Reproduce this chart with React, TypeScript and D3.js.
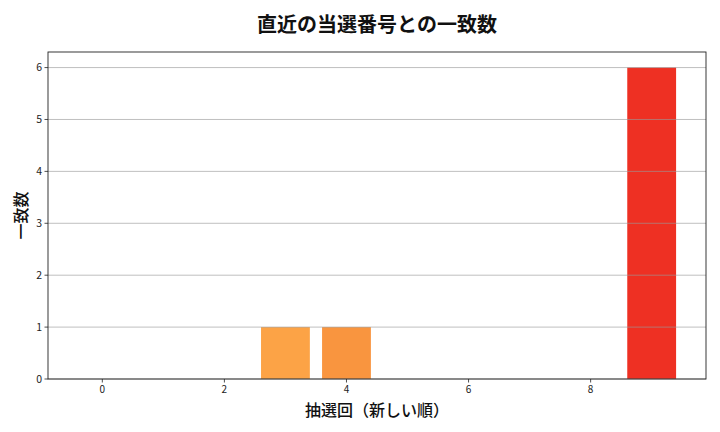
import * as d3 from "d3";
import { useEffect, useRef } from "react";

// draws (newest first) and matched-number counts
const draws = [0, 1, 2, 3, 4, 5, 6, 7, 8, 9];
const matches = [0, 0, 0, 1, 1, 0, 0, 0, 0, 6];
const barColors = [
  "#ffeda0",
  "#fed976",
  "#feb24c",
  "#fca346",
  "#f9953f",
  "#fd8d3c",
  "#fc4e2a",
  "#e31a1c",
  "#bd0026",
  "#ee3023",
];
const xTicks = [0, 2, 4, 6, 8];
const yTicks = [0, 1, 2, 3, 4, 5, 6];

const W = 720;
const H = 432;
const FONT = "'Noto Sans CJK JP', 'DejaVu Sans', sans-serif";

export default function App() {
  const ref = useRef<SVGSVGElement>(null);

  useEffect(() => {
    if (!ref.current) return;
    const svg = d3.select(ref.current);
    svg.selectAll("*").remove();

    const left = 48;
    const right = 706;
    const top = 52;
    const bottom = 379;

    const x = d3.scaleLinear().domain([-0.89, 9.89]).range([left, right]);
    const y = d3.scaleLinear().domain([0, 6.3]).range([bottom, top]);
    const bw = x(0.8) - x(0);

    svg
      .append("rect")
      .attr("width", W)
      .attr("height", H)
      .attr("fill", "#fff");

    // bars
    svg
      .append("g")
      .selectAll("rect")
      .data(draws)
      .join("rect")
      .attr("x", (d) => x(d) - bw / 2)
      .attr("width", bw)
      .attr("y", (d, i) => y(matches[i]))
      .attr("height", (d, i) => y(0) - y(matches[i]))
      .attr("fill", (d, i) => barColors[i]);

    // horizontal grid, drawn over bars
    svg
      .append("g")
      .selectAll("line")
      .data(yTicks)
      .join("line")
      .attr("x1", left)
      .attr("x2", right)
      .attr("y1", (d) => y(d))
      .attr("y2", (d) => y(d))
      .attr("stroke", "#999")
      .attr("stroke-opacity", 0.7)
      .attr("stroke-width", 0.9);

    // frame
    svg
      .append("rect")
      .attr("x", left)
      .attr("y", top)
      .attr("width", right - left)
      .attr("height", bottom - top)
      .attr("fill", "none")
      .attr("stroke", "#222")
      .attr("stroke-width", 0.9);

    // y ticks
    const yg = svg.append("g");
    yTicks.forEach((t) => {
      yg.append("line")
        .attr("x1", left - 3.5)
        .attr("x2", left)
        .attr("y1", y(t))
        .attr("y2", y(t))
        .attr("stroke", "#222")
        .attr("stroke-width", 0.8);
      yg.append("text")
        .attr("x", left - 6)
        .attr("y", y(t))
        .attr("dy", "0.35em")
        .attr("text-anchor", "end")
        .attr("font-size", 10.5)
        .attr("font-family", FONT)
        .attr("fill", "#222")
        .text(t);
    });

    // x ticks
    const xg = svg.append("g");
    xTicks.forEach((t) => {
      xg.append("line")
        .attr("x1", x(t))
        .attr("x2", x(t))
        .attr("y1", bottom)
        .attr("y2", bottom + 3.5)
        .attr("stroke", "#222")
        .attr("stroke-width", 0.8);
      xg.append("text")
        .attr("x", x(t))
        .attr("y", bottom + 14)
        .attr("text-anchor", "middle")
        .attr("font-size", 10)
        .attr("font-family", FONT)
        .attr("fill", "#222")
        .text(t);
    });

    // title and axis labels
    svg
      .append("text")
      .attr("x", (left + right) / 2)
      .attr("y", 32)
      .attr("text-anchor", "middle")
      .attr("font-size", 20)
      .attr("font-weight", "bold")
      .attr("font-family", FONT)
      .attr("fill", "#111")
      .text("直近の当選番号との一致数");

    svg
      .append("text")
      .attr("x", (left + right) / 2)
      .attr("y", 416)
      .attr("text-anchor", "middle")
      .attr("font-size", 16)
      .attr("font-weight", 500)
      .attr("font-family", FONT)
      .attr("fill", "#111")
      .text("抽選回（新しい順）");

    svg
      .append("text")
      .attr("transform", `translate(27,${(top + bottom) / 2}) rotate(-90)`)
      .attr("text-anchor", "middle")
      .attr("font-size", 16)
      .attr("font-weight", 500)
      .attr("font-family", FONT)
      .attr("fill", "#111")
      .text("一致数");
  }, []);

  return (
    <svg
      ref={ref}
      width={W}
      height={H}
      style={{ position: "absolute", left: 0, top: 0, display: "block" }}
    />
  );
}
